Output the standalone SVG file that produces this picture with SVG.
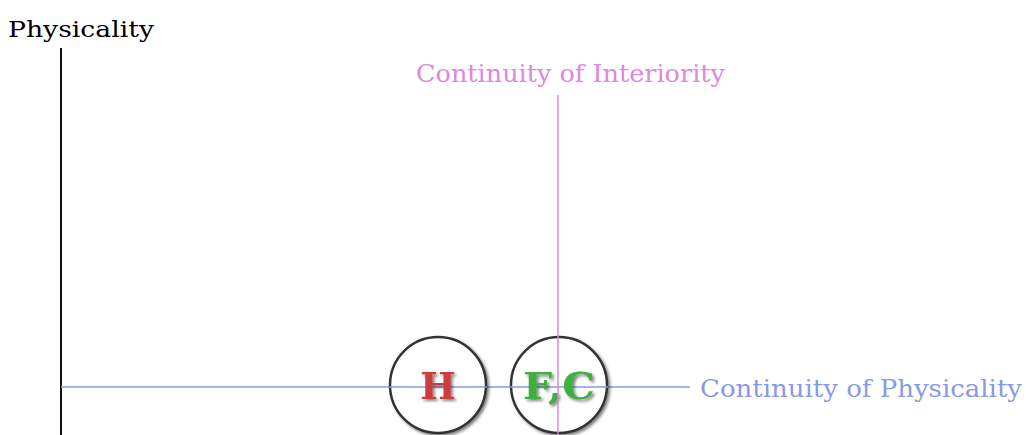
<svg xmlns="http://www.w3.org/2000/svg" width="1026" height="435" viewBox="0 0 1026 435">
<defs>
<style>
.lbl{font-family:"DejaVu Serif","Liberation Serif",serif;}
.node circle{fill:#fff;stroke:#333;stroke-width:2.5;filter:url(#sh);}
.node text{font-family:"DejaVu Serif","Liberation Serif",serif;font-weight:bold;font-size:38px;text-anchor:middle;}
</style>
<filter id="sh" x="-20%" y="-20%" width="150%" height="150%">
<feDropShadow dx="2" dy="2" stdDeviation="1.5" flood-color="#000" flood-opacity="0.5"/>
</filter>
</defs>
<rect width="1026" height="435" fill="#fff"/>
<g id="connectors">
<line x1="61" y1="48" x2="61" y2="435" stroke="#111" stroke-width="2"/>
<line x1="61" y1="387" x2="690" y2="387" stroke="#8899e6" stroke-width="1.5"/>
</g>
<text class="lbl" x="8" y="37" font-size="22" fill="#000" textLength="146" lengthAdjust="spacingAndGlyphs">Physicality</text>
<text class="lbl" x="416" y="82" font-size="24" fill="#dd88dd" textLength="309" lengthAdjust="spacingAndGlyphs">Continuity of Interiority</text>
<text class="lbl" x="700" y="397" font-size="24" fill="#8899e6" textLength="322" lengthAdjust="spacingAndGlyphs">Continuity of Physicality</text>
<g id="node-H" class="node">
<circle cx="438" cy="385" r="48"/>
<line x1="389" y1="387" x2="487" y2="387" stroke="#8899e6" stroke-width="1.5"/>
<text x="438" y="399" fill="#cc3d3d" style="filter:url(#sh)">H</text>
</g>
<g id="node-FC" class="node">
<circle cx="559" cy="385" r="48"/>
<line x1="510" y1="387" x2="608" y2="387" stroke="#8899e6" stroke-width="1.5"/>
<text x="559" y="399" fill="#3fae3f" style="filter:url(#sh)" textLength="72" lengthAdjust="spacingAndGlyphs">F,C</text>
</g>
<line x1="558" y1="95" x2="558" y2="435" stroke="#dd88dd" stroke-width="1.5"/>
</svg>
